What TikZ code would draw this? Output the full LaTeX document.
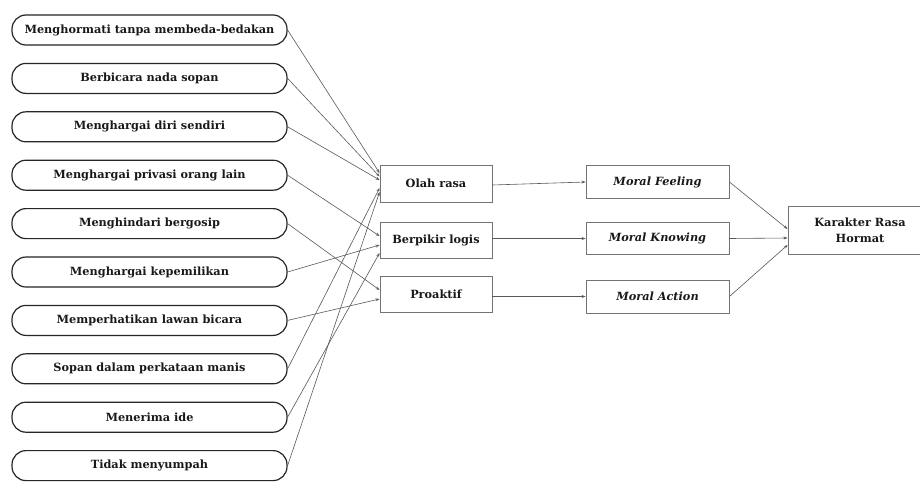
\documentclass[tikz,border=0pt]{standalone}
\usepackage{fontspec}
\setmainfont{DejaVu Serif}
\usetikzlibrary{arrows.meta}
\begin{document}
\begin{tikzpicture}[x=1pt,y=-1pt,
  lbl/.style={font=\fontsize{11.3}{16}\selectfont\bfseries, text=black!90},
  ilbl/.style={font=\fontsize{11.3}{16}\selectfont\bfseries\itshape},
  pill/.style={lbl, draw=black!85, line width=1.2pt, rounded corners=14pt, minimum width=275pt, minimum height=30pt, inner sep=0pt},
  box/.style={lbl, draw=black!55, line width=0.9pt, inner sep=0pt, align=center},
  conn/.style={draw=black!65, line width=0.6pt, -{Stealth[length=4pt,width=3pt]}}]
\useasboundingbox[fill=white] (0,0) rectangle (920,482);
\node[pill] (n1) at (149.5,30) {Menghormati tanpa membeda-bedakan};
\node[pill] (n2) at (149.5,78.4) {Berbicara nada sopan};
\node[pill] (n3) at (149.5,126.8) {Menghargai diri sendiri};
\node[pill] (n4) at (149.5,175.2) {Menghargai privasi orang lain};
\node[pill] (n5) at (149.5,223.6) {Menghindari bergosip};
\node[pill] (n6) at (149.5,272) {Menghargai kepemilikan};
\node[pill] (n7) at (149.5,320.4) {Memperhatikan lawan bicara};
\node[pill] (n8) at (149.5,368.8) {Sopan dalam perkataan manis};
\node[pill] (n9) at (149.5,417.2) {Menerima ide};
\node[pill] (n10) at (149.5,465.6) {Tidak menyumpah};
\node[box, minimum width=112pt, minimum height=37pt] (olah) at (436,183.5) {Olah rasa};
\node[box, minimum width=112pt, minimum height=36pt] (berp) at (436,240) {Berpikir logis};
\node[box, minimum width=112pt, minimum height=36pt] (proa) at (436,294) {Proaktif};
\node[box, ilbl, minimum width=143pt, minimum height=33pt] (feel) at (657.5,182) {Moral Feeling};
\node[box, ilbl, minimum width=143pt, minimum height=32pt] (know) at (657.5,238.5) {Moral Knowing};
\node[box, ilbl, minimum width=143pt, minimum height=33pt] (act) at (657.5,296.5) {Moral Action};
\node[box, minimum width=144pt, minimum height=48pt] (kar) at (860,230) {Karakter Rasa\\Hormat};
\draw[conn] (n1.east) -- ([yshift=10.5pt]olah.west);
\draw[conn] (n2.east) -- ([yshift=7pt]olah.west);
\draw[conn] (n3.east) -- ([yshift=3.5pt]olah.west);
\draw[conn] (n8.east) -- ([yshift=-4.5pt]olah.west);
\draw[conn] (n10.east) -- ([yshift=-8.5pt]olah.west);
\draw[conn] (n4.east) -- ([yshift=4pt]berp.west);
\draw[conn] (n6.east) -- ([yshift=-5pt]berp.west);
\draw[conn] (n9.east) -- ([yshift=-13pt]berp.west);
\draw[conn] (n5.east) -- ([yshift=4pt]proa.west);
\draw[conn] (n7.east) -- ([yshift=-5pt]proa.west);
\draw[conn] ([yshift=-1.5pt]olah.east) -- (feel.west);
\draw[conn] ([yshift=1.5pt]berp.east) -- (know.west);
\draw[conn] ([yshift=-2.5pt]proa.east) -- (act.west);
\draw[conn] (feel.east) -- ([yshift=1pt]kar.west);
\draw[conn] (know.east) -- ([yshift=-8pt]kar.west);
\draw[conn] (act.east) -- ([yshift=-15pt]kar.west);
\end{tikzpicture}
\end{document}
